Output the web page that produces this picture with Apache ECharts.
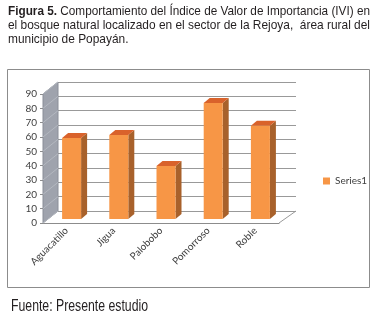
<!DOCTYPE html>
<html>
<head>
<meta charset="utf-8">
<script src="https://cdn.jsdelivr.net/npm/echarts@6/dist/echarts.min.js"></script>
<style>
html, body { margin: 0; padding: 0; background: #fff; }
#chart { width: 380px; height: 320px; }
</style>
</head>
<body>
<div id="chart"></div>
<script>
// datos
var especies = ['Aguacatillo', 'Jigua', 'Palobobo', 'Pomorroso', 'Roble'];
var ivi = [56.5, 58.6, 37, 81, 65];
var yTicks = [0, 10, 20, 30, 40, 50, 60, 70, 80, 90];
var serieNombre = 'Series1';

var titulo1a = 'Figura 5.';
var titulo1b = ' Comportamiento del Índice de Valor de Importancia (IVI) en';
var titulo2 = 'el bosque natural localizado en el sector de la Rejoya,  área rural del';
var titulo3 = 'municipio de Popayán.';
var fuente = 'Fuente: Presente estudio';

var sans = "'Liberation Sans', Arial, sans-serif";
var DX = 15, DY = -12; // profundidad de la pared del fondo

// ancho de texto para simular letra angosta (Arial Narrow)
var ctx = document.createElement('canvas').getContext('2d');
function ancho(txt, font) { ctx.font = font; return ctx.measureText(txt).width; }
var s1 = 362 / (ancho(titulo1a, 'bold 13px ' + sans) + ancho(titulo1b, '13px ' + sans));
var s2 = 362 / ancho(titulo2, '13px ' + sans);
var sF = 137 / ancho(fuente, '16px ' + sans);

var myChart = echarts.init(document.getElementById('chart'));

function wallItem(params, api) {
    var cs = params.coordSys;
    var x0 = cs.x, yb = cs.y + cs.height, yt = cs.y;
    var kids = [{
        type: 'polygon',
        shape: { points: [[x0, yb], [x0, yt], [x0 + DX, yt + DY], [x0 + DX, yb + DY]] },
        style: { fill: '#9fa3ad', stroke: '#8a8e98', lineWidth: 1 }
    }];
    yTicks.forEach(function (t) {
        var p = api.coord([0, t]);
        kids.push({
            type: 'line',
            shape: { x1: x0, y1: p[1], x2: x0 + DX, y2: p[1] + DY },
            style: { stroke: '#b4b8c0', lineWidth: 1 }
        });
    });
    // piso, borde derecho
    kids.push({
        type: 'line',
        shape: { x1: x0 + cs.width, y1: yb, x2: x0 + cs.width + DX + 2, y2: yb + DY },
        style: { stroke: '#9a9a9a', lineWidth: 1 }
    });
    return { type: 'group', children: kids };
}

function barItem(params, api) {
    var i = api.value(0);
    var p0 = api.coord([i, 0]);
    var p1 = api.coord([i, api.value(1)]);
    var bw = 19, fx = 5, fy = -4, sx = 6, sy = -5;
    var l = p0[0] - bw / 2 + fx, r = l + bw;
    var top = p1[1] + fy, bot = p0[1] + fy;
    return {
        type: 'group',
        children: [{
            type: 'polygon',
            shape: { points: [[r, top], [r + sx, top + sy], [r + sx, bot + sy], [r, bot]] },
            style: { fill: '#a8612b' }
        }, {
            type: 'polygon',
            shape: { points: [[l, top], [l + sx, top + sy], [r + sx, top + sy], [r, top]] },
            style: { fill: '#d9622b' }
        }, {
            type: 'rect',
            shape: { x: l, y: top, width: bw, height: bot - top },
            style: { fill: '#f79646' }
        }]
    };
}

var option = {
    animation: false,
    backgroundColor: '#fff',
    graphic: [{
        type: 'text', x: 8, y: 5, scaleX: s1,
        style: {
            text: '{b|' + titulo1a + '}' + titulo1b,
            font: '13px ' + sans, fill: '#231f20',
            rich: { b: { fontWeight: 'bold', fontSize: 13, fontFamily: sans, fill: '#231f20' } }
        }
    }, {
        type: 'text', x: 8, y: 19, scaleX: s2,
        style: { text: titulo2, font: '13px ' + sans, fill: '#231f20' }
    }, {
        type: 'text', x: 8, y: 33, scaleX: s2,
        style: { text: titulo3, font: '13px ' + sans, fill: '#231f20' }
    }, {
        type: 'rect', left: 5, top: 67,
        shape: { width: 362, height: 218 },
        style: { fill: 'none', stroke: '#8c8c8c', lineWidth: 1 }
    }, {
        type: 'text', x: 11, y: 299, scaleX: sF,
        style: { text: fuente, font: '16px ' + sans, fill: '#231f20' }
    }],
    legend: {
        data: [serieNombre],
        left: 318, top: 171,
        icon: 'rect', itemWidth: 7, itemHeight: 7, itemGap: 3,
        textStyle: { fontSize: 10, color: '#404040', fontFamily: 'Lato' }
    },
    grid: [
        { left: 43, top: 94, width: 236, height: 129 },
        { left: 58, top: 82, width: 238, height: 129 }
    ],
    xAxis: [{
        gridIndex: 0, type: 'category', data: especies,
        axisLine: { lineStyle: { color: '#8c8c8c' } },
        axisTick: { alignWithLabel: false, length: 4, lineStyle: { color: '#8c8c8c' } },
        axisLabel: { rotate: 45, fontSize: 10, color: '#404040', fontFamily: 'Lato', margin: 6 }
    }, {
        gridIndex: 1, type: 'category', data: especies, show: false
    }],
    yAxis: [{
        gridIndex: 0, type: 'value', min: 0, max: 90, interval: 10,
        axisLine: { show: true, lineStyle: { color: '#8c8c8c' } },
        axisTick: { show: true, length: 3, lineStyle: { color: '#8c8c8c' } },
        splitLine: { show: false },
        axisLabel: { fontSize: 10, color: '#404040', fontFamily: 'Lato', margin: 6 }
    }, {
        gridIndex: 1, type: 'value', min: 0, max: 90, interval: 10,
        axisLabel: { show: false }, axisLine: { show: false }, axisTick: { show: false },
        splitLine: { lineStyle: { color: '#999', width: 1 } }
    }],
    series: [{
        type: 'custom', name: 'pared', xAxisIndex: 0, yAxisIndex: 0,
        renderItem: wallItem, data: [[0, 0]], silent: true, z: 1
    }, {
        type: 'custom', name: serieNombre, xAxisIndex: 0, yAxisIndex: 0,
        itemStyle: { color: '#f79646' },
        renderItem: barItem,
        data: ivi.map(function (v, i) { return [i, v]; }),
        z: 3
    }]
};

myChart.setOption(option);
</script>
</body>
</html>
